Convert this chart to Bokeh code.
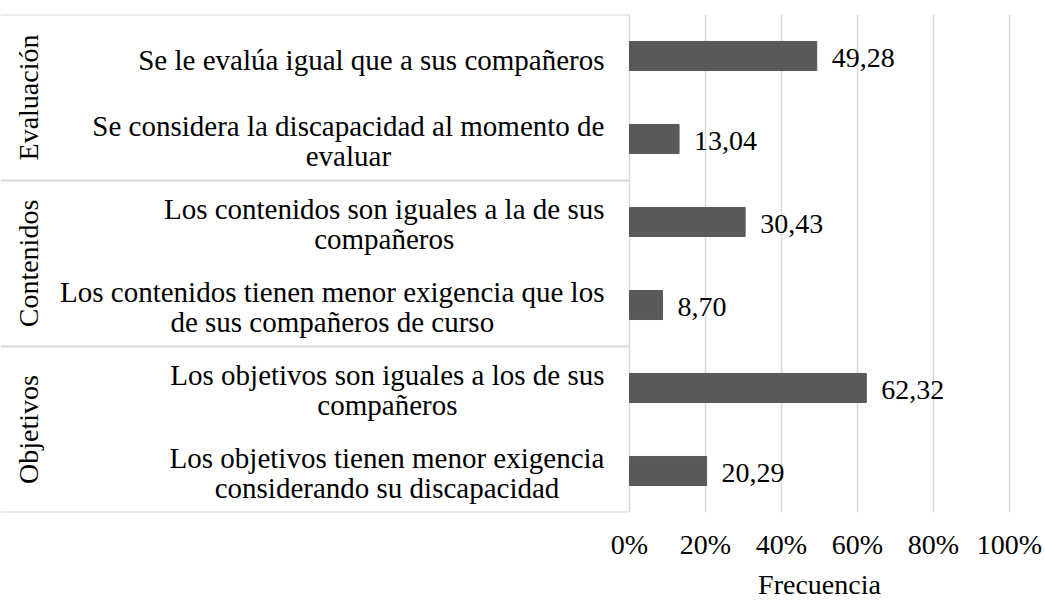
import math
from bokeh.plotting import figure
from bokeh.models import Range1d, FixedTicker, ColumnDataSource, Title
from bokeh.embed import file_html
from bokeh.resources import INLINE
from bokeh.core.properties import value

# ---------------- data ----------------
groups = ["Evaluación", "Contenidos", "Objetivos"]
group_sizes = [2, 2, 2]
categories = [
    "Se le evalúa igual que a sus compañeros",
    "Se considera la discapacidad al momento de\nevaluar",
    "Los contenidos son iguales a la de sus\ncompañeros",
    "Los contenidos tienen menor exigencia que los\nde sus compañeros de curso",
    "Los objetivos son iguales a los de sus\ncompañeros",
    "Los objetivos tienen menor exigencia\nconsiderando su discapacidad",
]
values = [49.28, 13.04, 30.43, 8.70, 62.32, 20.29]
x_ticks = [0, 20, 40, 60, 80, 100]
x_tick_labels = ["0%", "20%", "40%", "60%", "80%", "100%"]
x_title = "Frecuencia"

# ---------------- layout / style ----------------
W, H = 1045, 603
FRAME_TOP = 14
FRAME_BOTTOM_BORDER = 91
ZERO_PX = 629.0          # canvas x of the 0 % line
PX_PER_UNIT = 3.8
XMIN = -ZERO_PX / PX_PER_UNIT
XMAX = (W - ZERO_PX) / PX_PER_UNIT
FONT = "Liberation Serif"
FS = 28
FS_CAT = 29
LINE_H = 30
LABEL_GAP = 25
BAR_COLOR = "#595959"
GRID_COLOR = "#d9d9d9"

# Times / Liberation Serif advance widths (per 1000 em)
_W = {' ': 250, 'a': 444, 'b': 500, 'c': 444, 'd': 500, 'e': 444, 'f': 333, 'g': 500,
      'h': 500, 'i': 278, 'j': 278, 'k': 500, 'l': 278, 'm': 778, 'n': 500, 'o': 500,
      'p': 500, 'q': 500, 'r': 333, 's': 389, 't': 278, 'u': 500, 'v': 500, 'w': 722,
      'x': 500, 'y': 500, 'z': 444, 'á': 444, 'é': 444, 'í': 278, 'ó': 500, 'ú': 500,
      'ñ': 500, 'L': 611, 'S': 556, 'E': 611, 'C': 667, 'O': 722, 'F': 556}


def text_width(s, size):
    return sum(_W.get(ch, 500) for ch in s) * size / 1000.0


n = len(categories)
centers = [i + 0.5 for i in range(n)]

p = figure(width=W, height=H, output_backend="svg", toolbar_location=None,
           x_range=Range1d(XMIN, XMAX), y_range=Range1d(n, 0),
           y_axis_location=None, min_border_left=0, min_border_right=0,
           min_border_top=FRAME_TOP, min_border_bottom=FRAME_BOTTOM_BORDER)
p.outline_line_color = None
p.background_fill_color = "white"
p.border_fill_color = "white"

# grid
p.ygrid.visible = False
p.xgrid.ticker = FixedTicker(ticks=x_ticks)
p.xgrid.grid_line_color = GRID_COLOR
p.xgrid.grid_line_width = 1.5

# x axis
ax = p.xaxis[0]
ax.ticker = FixedTicker(ticks=x_ticks)
ax.major_label_overrides = {t: l for t, l in zip(x_ticks, x_tick_labels)}
ax.axis_line_color = None
ax.major_tick_line_color = None
ax.minor_tick_line_color = None
ax.major_tick_out = 0
ax.major_tick_in = 0
ax.major_label_standoff = 16
ax.major_label_text_font = FONT
ax.major_label_text_font_size = f"{FS}px"
ax.major_label_text_color = "black"

# axis title, centred under the 0-100 % span
mid_px = ZERO_PX + (x_ticks[0] + x_ticks[-1]) / 2.0 * PX_PER_UNIT
p.add_layout(Title(text=x_title, align="left",
                   offset=mid_px - text_width(x_title, FS) / 2.0,
                   text_font=FONT, text_font_size=f"{FS}px",
                   text_font_style="normal", text_color="black",
                   standoff=8), "below")

# group separators (from group sizes)
bounds = [0]
for s in group_sizes:
    bounds.append(bounds[-1] + s)
p.segment(x0=[XMIN] * len(bounds), x1=[0] * len(bounds), y0=bounds, y1=bounds,
          line_color=GRID_COLOR, line_width=2)

# bars
src = ColumnDataSource(dict(y=centers, v=values,
                            lab=[f"{v:.2f}".replace(".", ",") for v in values]))
p.hbar(y="y", left=0, right="v", height=0.35, source=src,
       fill_color=BAR_COLOR, line_color=BAR_COLOR)

# data labels
p.text(x="v", y="y", text="lab", source=src, x_offset=15, y_offset=2,
       text_font=value(FONT), text_font_size=f"{FS}px", text_color="black",
       text_align="left", text_baseline="middle")

# category labels (right-aligned block, centred lines)
tx, ty, tt, ta, txo, tyo = [], [], [], [], [], []
for yc, cat in zip(centers, categories):
    lines = cat.split("\n")
    if len(lines) == 1:
        tx.append(0); ty.append(yc); tt.append(lines[0]); ta.append("right")
        txo.append(-LABEL_GAP); tyo.append(4)
    else:
        wmax = max(text_width(l, FS_CAT) for l in lines)
        for j, l in enumerate(lines):
            tx.append(0); ty.append(yc); tt.append(l); ta.append("center")
            txo.append(-LABEL_GAP - wmax / 2.0)
            tyo.append((j - (len(lines) - 1) / 2.0) * LINE_H + 2)
p.text(x="x", y="y", text="t", text_align="a", x_offset="xo", y_offset="yo",
       source=ColumnDataSource(dict(x=tx, y=ty, t=tt, a=ta, xo=txo, yo=tyo)),
       text_font=value(FONT), text_font_size=f"{FS_CAT}px", text_color="black",
       text_baseline="middle")

# group labels (rotated)
gy = [(bounds[k] + bounds[k + 1]) / 2.0 for k in range(len(groups))]
gx = [XMIN + 28.0 / PX_PER_UNIT] * len(groups)
p.text(x=gx, y=gy, text=groups, angle=math.pi / 2,
       text_font=value(FONT), text_font_size=f"{FS}px", text_color="black",
       text_align="center", text_baseline="middle")

open("out.html", "w").write(file_html(p, INLINE))
